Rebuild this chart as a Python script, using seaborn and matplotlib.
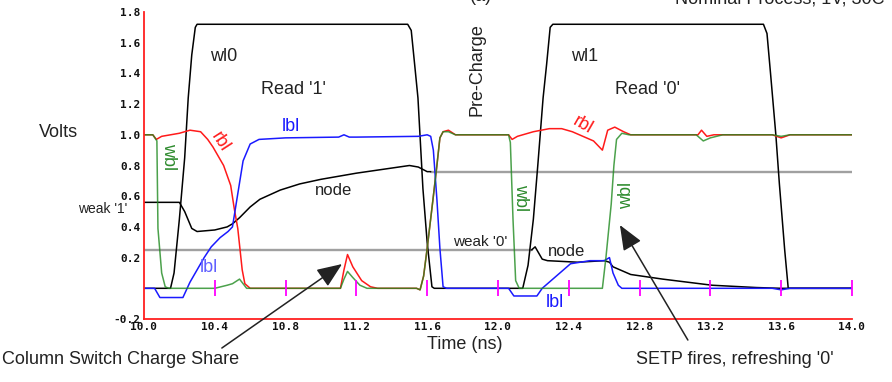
import matplotlib
matplotlib.use("Agg")
import matplotlib.pyplot as plt
import seaborn as sns

# SRAM read waveforms (time in ns, volts)
x_ticks = [10.0, 10.4, 10.8, 11.2, 11.6, 12.0, 12.4, 12.8, 13.2, 13.6, 14.0]
x_tick_labels = ["10.0", "10.4", "10.8", "11.2", "11.6", "12.0", "12.4", "12.8", "13.2", "13.6", "14.0"]
y_ticks = [-0.2, 0.2, 0.4, 0.6, 0.8, 1.0, 1.2, 1.4, 1.6, 1.8]
y_tick_labels = ["-0.2", "0.2", "0.4", "0.6", "0.8", "1.0", "1.2", "1.4", "1.6", "1.8"]

wl_t = [10.0, 10.15, 10.17, 10.2, 10.23, 10.25, 10.27, 10.29, 10.3, 11.49, 11.51, 11.53,
        11.548, 11.576, 11.6, 11.627, 11.64, 12.14, 12.17, 12.2, 12.225, 12.255, 12.275,
        12.295, 12.31, 13.5, 13.52, 13.54, 13.57, 13.59, 13.62, 13.64, 14.0]
wl_v = [0, 0, 0.1, 0.45, 0.85, 1.24, 1.52, 1.70, 1.72, 1.72, 1.68, 1.45,
        1.24, 0.65, 0.3, 0.01, 0, 0, 0.15, 0.45, 0.8, 1.24, 1.46,
        1.70, 1.72, 1.72, 1.66, 1.4, 1.0, 0.68, 0.25, 0, 0]

rbl_t = [10.0, 10.05, 10.07, 10.1, 10.2, 10.26, 10.32, 10.36, 10.39, 10.45, 10.49, 10.51,
         10.53, 10.555, 10.57, 10.6, 11.11, 11.13, 11.15, 11.18, 11.23, 11.28, 11.32, 11.54,
         11.56, 11.58, 11.6, 11.633, 11.655, 11.672, 11.69, 11.72, 11.76, 12.06, 12.08, 12.11,
         12.2, 12.29, 12.36, 12.42, 12.48, 12.54, 12.59, 12.62, 12.66, 12.71, 12.75, 13.13,
         13.15, 13.18, 13.22, 13.55, 13.6, 13.65, 14.0]
rbl_v = [1.0, 1.0, 0.97, 0.99, 1.01, 1.03, 1.02, 0.97, 0.92, 0.8, 0.67, 0.52,
         0.39, 0.12, 0.03, 0.0, 0.0, 0.12, 0.22, 0.14, 0.05, 0.01, 0.0, 0.0,
         -0.01, 0.08, 0.26, 0.58, 0.8, 0.98, 1.02, 1.03, 1.0, 1.0, 0.97, 0.99,
         1.02, 1.04, 1.04, 1.02, 0.99, 0.96, 0.9, 1.03, 1.05, 1.02, 1.0, 1.0,
         1.03, 0.99, 1.0, 1.0, 0.98, 1.0, 1.0]

lbl_t = [10.0, 10.06, 10.09, 10.22, 10.26, 10.3, 10.34, 10.38, 10.43, 10.475, 10.5, 10.525,
         10.56, 10.6, 10.65, 10.8, 11.1, 11.13, 11.16, 11.2, 11.55, 11.6, 11.62, 11.635,
         11.655, 11.672, 11.69, 11.71, 12.06, 12.09, 12.22, 12.25, 12.33, 12.41, 12.52, 12.6,
         12.63, 12.65, 12.68, 12.7, 13.55, 13.6, 13.65, 14.0]
lbl_v = [0.0, 0.0, -0.06, -0.06, 0.04, 0.12, 0.2, 0.27, 0.33, 0.37, 0.4, 0.58,
         0.83, 0.94, 0.97, 0.98, 0.985, 1.0, 0.985, 0.985, 0.99, 1.0, 0.99, 0.9,
         0.58, 0.26, 0.01, 0.0, 0.0, -0.05, -0.05, 0.0, 0.08, 0.16, 0.18, 0.18,
         0.2, 0.1, 0.02, 0.0, 0.0, -0.01, 0.0, 0.0]

wbl_t = [10.0, 10.05, 10.073, 10.079, 10.1, 10.12, 10.14, 10.4, 10.47, 10.5, 10.54, 10.58,
         11.11, 11.13, 11.15, 11.18, 11.22, 11.26, 11.54, 11.56, 11.58, 11.6, 11.633, 11.655,
         11.672, 11.69, 11.72, 11.76, 12.06, 12.07, 12.085, 12.1, 12.12, 12.59, 12.61, 12.64,
         12.655, 12.67, 12.7, 12.74, 13.12, 13.16, 13.2, 13.27, 13.55, 13.6, 13.65, 14.0]
wbl_v = [1.0, 1.0, 0.96, 0.39, 0.1, 0.01, 0.0, 0.0, 0.02, 0.03, 0.06, 0.0,
         0.0, 0.06, 0.11, 0.07, 0.02, 0.0, 0.0, -0.01, 0.08, 0.26, 0.58, 0.8,
         0.98, 1.02, 1.02, 1.0, 1.0, 0.95, 0.45, 0.05, 0.0, 0.0, 0.2, 0.55,
         0.8, 0.97, 1.01, 1.0, 1.0, 0.96, 0.98, 1.0, 1.0, 0.99, 1.0, 1.0]

# storage node of the cell read as '1' (active part, then held level)
node1_t = [10.0, 10.2, 10.23, 10.27, 10.3, 10.4, 10.47, 10.5, 10.54, 10.6, 10.655, 10.77,
           10.88, 11.0, 11.2, 11.5, 11.55, 11.6, 11.62]
node1_v = [0.56, 0.56, 0.5, 0.39, 0.37, 0.38, 0.40, 0.42, 0.46, 0.53, 0.58, 0.64,
           0.68, 0.71, 0.75, 0.80, 0.79, 0.76, 0.76]
node1_hold_t = [11.62, 14.0]
node1_hold_v = [0.76, 0.76]

# storage node of the cell read as '0' (held level, then active part)
node0_hold_t = [10.0, 12.19]
node0_hold_v = [0.25, 0.25]
node0_t = [12.19, 12.21, 12.25, 12.28, 12.45, 12.6, 12.63, 12.65, 12.75, 12.93, 13.21, 13.46,
           13.6, 14.0]
node0_v = [0.25, 0.27, 0.19, 0.18, 0.17, 0.18, 0.17, 0.14, 0.09, 0.06, 0.02, 0.005,
           0.0, 0.0]

sns.set_theme(style="white")
plt.rcParams["font.family"] = ["Liberation Sans", "DejaVu Sans"]

fig = plt.figure(figsize=(8.92, 3.82), dpi=100)
ax = fig.add_axes([0.1614, 0.1649, 0.7937, 0.8037])


def trace(t, v, color, lw=1.1, alpha=1.0):
    sns.lineplot(x=t, y=v, ax=ax, color=color, linewidth=lw, alpha=alpha,
                 sort=False, estimator=None, legend=False)


trace(node0_hold_t, node0_hold_v, "#a0a0a0", lw=1.7)
trace(node1_hold_t, node1_hold_v, "#a0a0a0", lw=1.7)
trace(wl_t, wl_v, "black")
trace(node1_t, node1_v, "black")
trace(node0_t, node0_v, "black")
trace(rbl_t, rbl_v, "#ff1a1a")
trace(lbl_t, lbl_v, "#1a1aff")
trace(wbl_t, wbl_v, "#1f8a1f", alpha=0.8)

ax.set_xlim(10.0, 14.0)
ax.set_ylim(-0.2, 1.8)

for side in ["top", "right"]:
    ax.spines[side].set_visible(False)
for side in ["left", "bottom"]:
    ax.spines[side].set_color("#ff2020")
    ax.spines[side].set_linewidth(1.3)

tick_font = {"family": "DejaVu Sans Mono", "weight": "bold", "size": 8}
ax.set_xticks(x_ticks)
ax.set_xticklabels(x_tick_labels, fontdict=tick_font)
ax.set_yticks(y_ticks)
ax.set_yticklabels(y_tick_labels, fontdict=tick_font)
ax.tick_params(axis="y", direction="in", length=6.5, width=1.8, color="#ff00ff", pad=2.5)
ax.tick_params(axis="x", direction="in", length=5, width=1.3, color="#ff00ff", pad=2.5)
ax.tick_params(labelcolor="#111111")

# tick marks repeated on the 0 V line
ax.plot(x_ticks[1:], [0] * len(x_ticks[1:]), linestyle="none", marker="|",
        markersize=12, markeredgewidth=1.3, color="#ff00ff", zorder=5)

ax.set_xlabel("Time (ns)", fontsize=13, color="#222222")
ax.xaxis.set_label_coords(0.453, -0.055)
ax.set_ylabel("Volts", fontsize=13, color="#222222", rotation=0, ha="center", va="center")
ax.yaxis.set_label_coords(-0.121, 0.606)

txt = dict(fontsize=13, ha="center", va="center", color="#222222")
ax.text(10.449, 1.508, "wl0", **txt)
ax.text(10.847, 1.298, "Read '1'", **txt)
ax.text(12.492, 1.508, "wl1", **txt)
ax.text(12.847, 1.298, "Read '0'", **txt)
ax.text(11.881, 1.422, "Pre-Charge", rotation=90, **txt)
ax.text(11.073, 0.64, "node", fontsize=12, ha="center", va="center", color="#222222")
ax.text(12.39, 0.243, "node", fontsize=12, ha="center", va="center", color="#222222")
ax.text(9.768, 0.515, "weak '1'", fontsize=10, ha="center", va="center", color="#222222")
ax.text(11.898, 0.302, "weak '0'", fontsize=11, ha="center", va="center", color="#222222")

ax.text(10.831, 1.051, "lbl", fontsize=13, ha="center", va="center", color="#1a1aff")
ax.text(10.367, 0.133, "lbl", fontsize=13, ha="center", va="center", color="#6060ff")
ax.text(12.322, -0.09, "lbl", fontsize=13, ha="center", va="center", color="#1a1aff")
ax.text(10.429, 0.953, "rbl", fontsize=13, ha="center", va="center", color="#ff1a1a", rotation=-57)
ax.text(12.48, 1.063, "rbl", fontsize=13, ha="center", va="center", color="#ff1a1a", rotation=-30)
ax.text(10.136, 0.86, "wbl", fontsize=13, ha="center", va="center", color="#2e8b2e", rotation=-90)
ax.text(12.13, 0.59, "wbl", fontsize=13, ha="center", va="center", color="#2e8b2e", rotation=-90)
ax.text(12.729, 0.608, "wbl", fontsize=13, ha="center", va="center", color="#2e8b2e", rotation=90)

arrow = dict(arrowstyle="-|>,head_length=1.1,head_width=0.45", color="#222222",
             lw=1.1, mutation_scale=14, shrinkA=0, shrinkB=0)
ax.annotate("", xy=(11.119, 0.158), xytext=(10.44, -0.389), arrowprops=arrow,
            annotation_clip=False)
ax.annotate("", xy=(12.689, 0.412), xytext=(13.073, -0.337), arrowprops=arrow,
            annotation_clip=False)

fig.text(2 / 892, 1 - 360 / 382, "Column Switch Charge Share", fontsize=13,
         ha="left", va="center", color="#222222")
fig.text(734.5 / 892, 1 - 360 / 382, "SETP fires, refreshing '0'", fontsize=13,
         ha="center", va="center", color="#222222")
fig.text(675 / 892, 1 - 3 / 382, "Nominal Process, 1V, 30C", fontsize=13,
         ha="left", va="baseline", color="#222222")
fig.text(481 / 892, 1 - 1 / 382, "(a)", fontsize=13, ha="center", va="baseline",
         color="#222222")

fig.savefig("out.png", dpi=100)
